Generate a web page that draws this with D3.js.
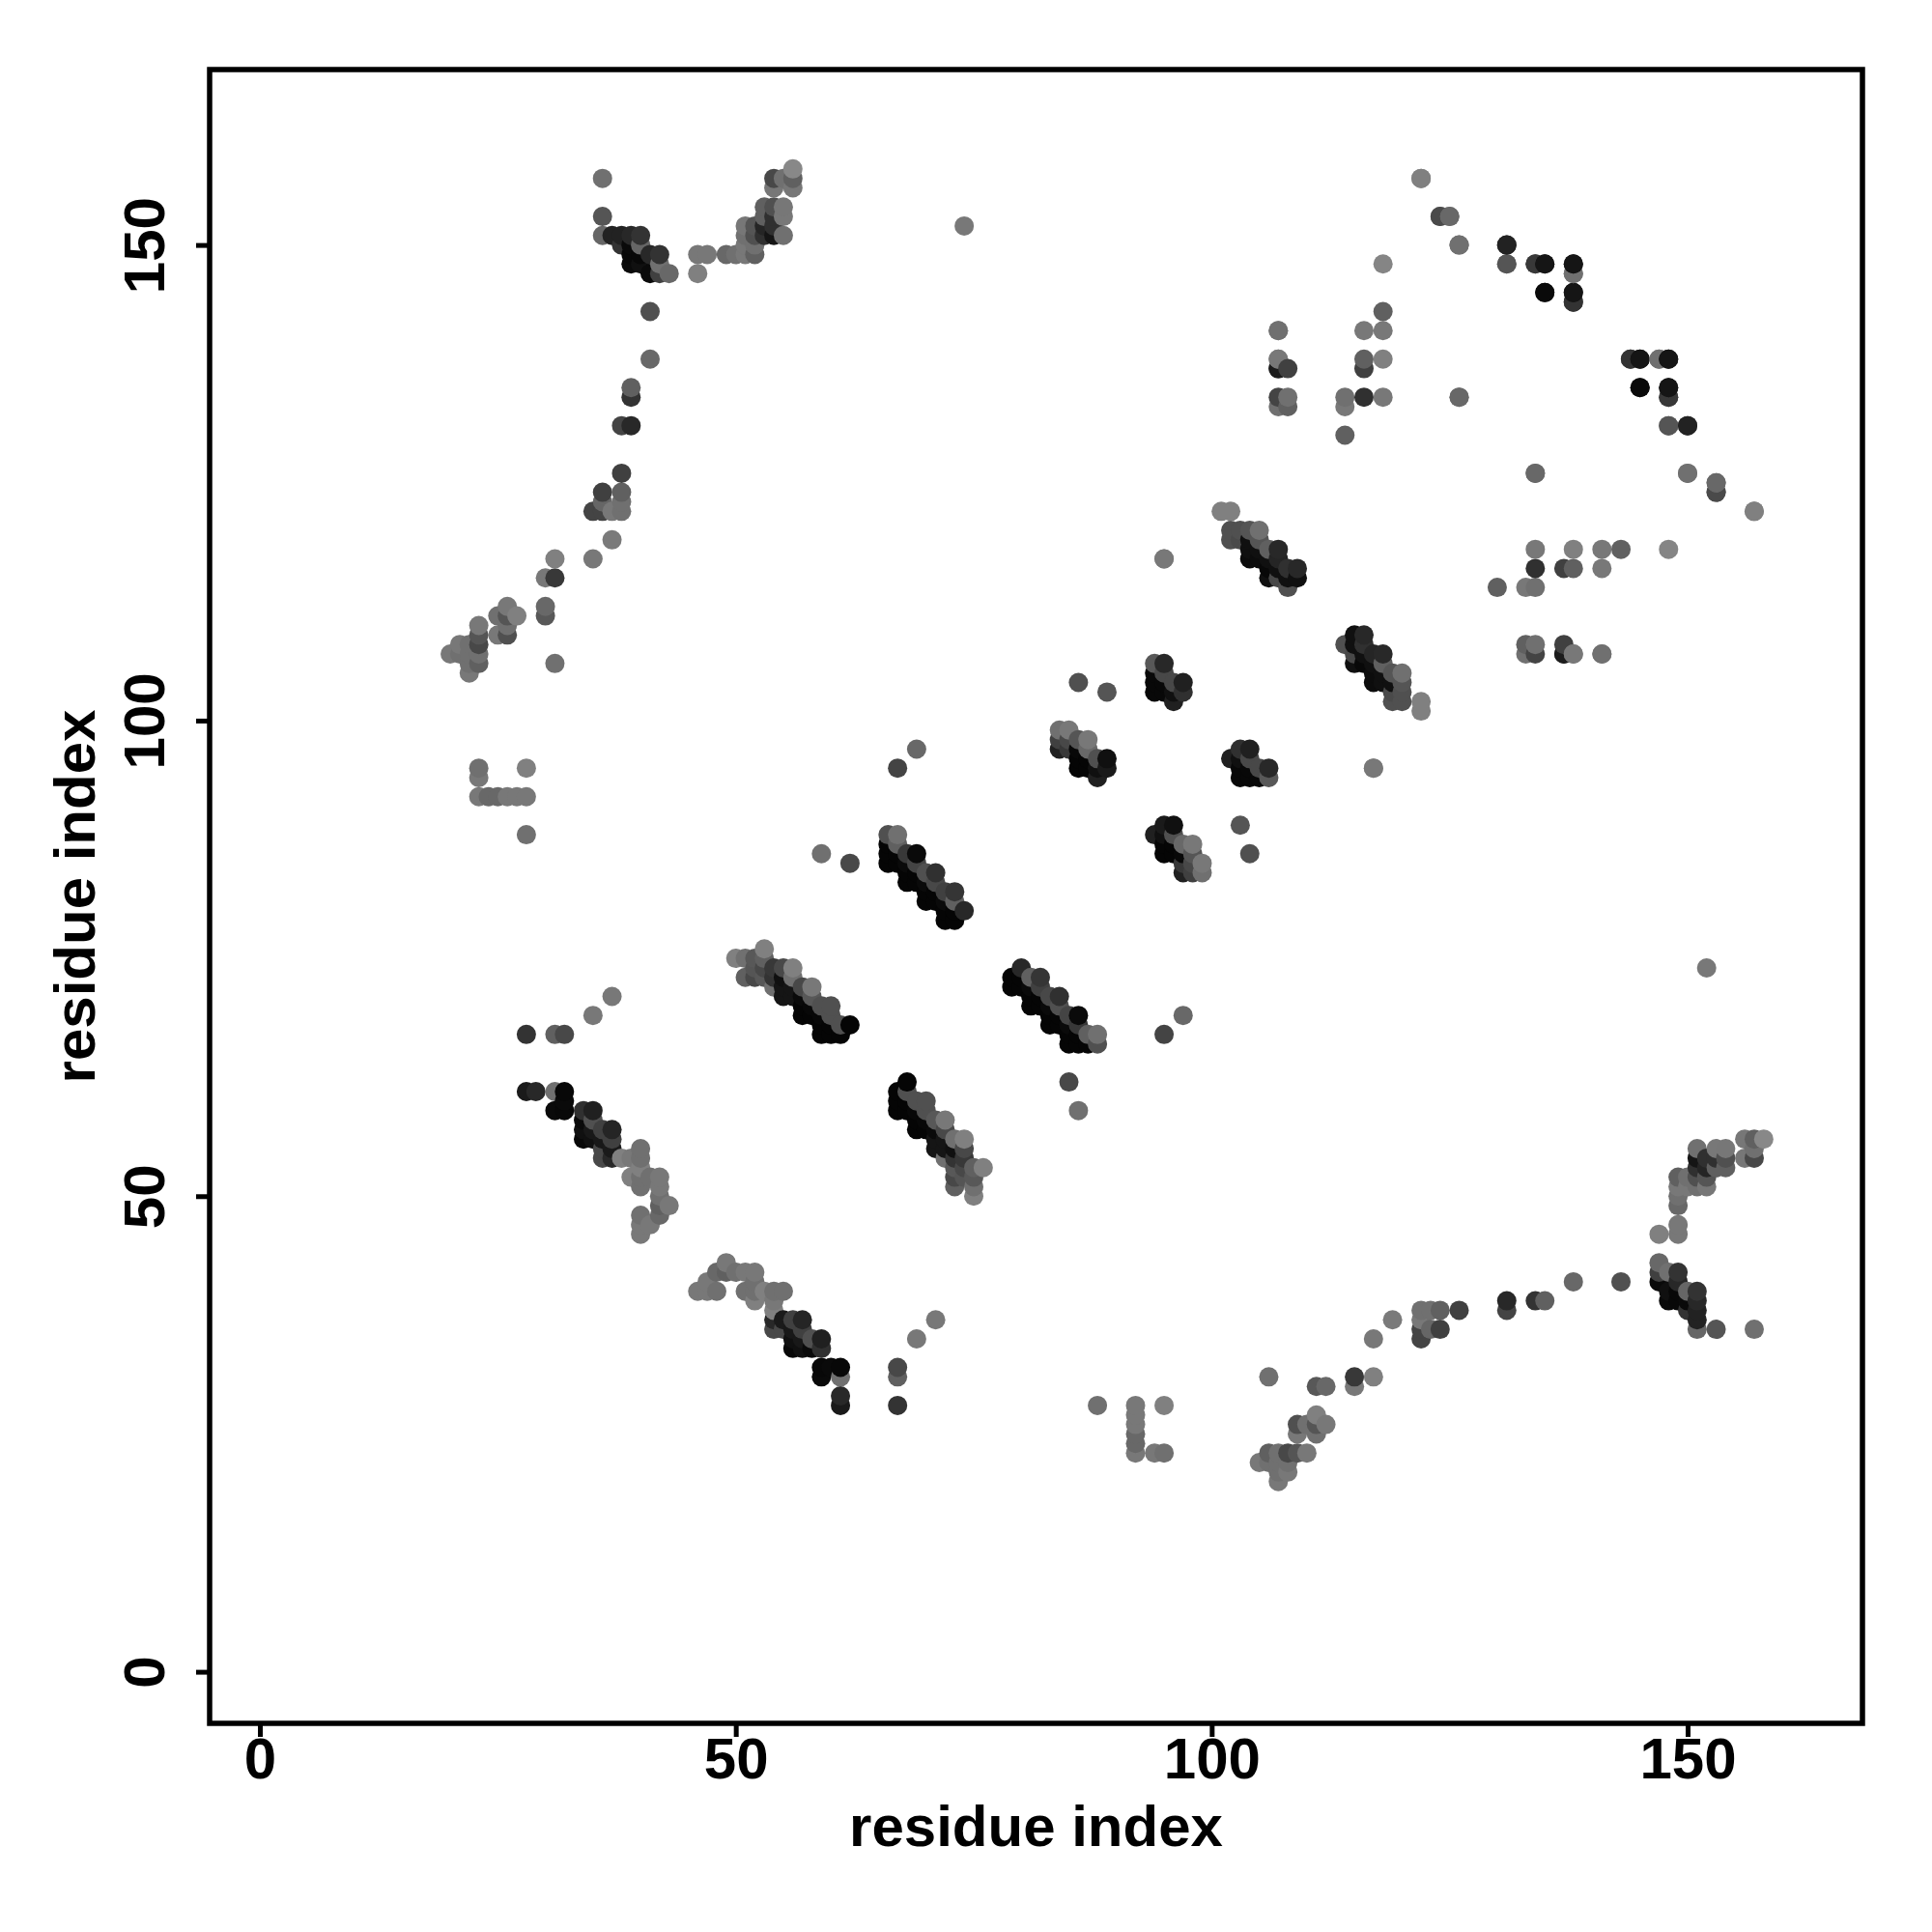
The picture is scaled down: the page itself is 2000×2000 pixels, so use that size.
<!DOCTYPE html>
<html><head><meta charset="utf-8">
<script src="https://cdn.jsdelivr.net/npm/d3@7/dist/d3.min.js"></script>
<style>html,body{margin:0;padding:0;background:#fff}svg{display:block}</style>
</head><body><svg id="c" width="2000" height="2000"></svg>
<script>
// contact map: each entry is [residue i, residue j, grey level]; the map is symmetric, (j,i) is drawn too
const topBranch = [[36,157,0x70],[36,153,0x55],[36,151,0x66],[37,151,0x22],[38,151,0x22],[39,151,0x28],[40,151,0x33],
[38,150,0x33],[39,150,0x0a],[40,150,0x66],[39,149,0x08],[40,149,0x08],[41,149,0x28],[42,149,0x33],[39,148,0x0a],[40,148,0x10],[42,148,0x70],
[41,147,0x0a],[42,147,0x40],[43,147,0x68],[46,147,0x80],[46,149,0x78],[47,149,0x78],[49,149,0x68],[50,149,0x70],[51,149,0x78],[52,149,0x60],
[51,152,0x77],[51,151,0x70],[51,150,0x78],[52,152,0x55],[52,151,0x50],[52,150,0x70],[53,154,0x60],[53,153,0x60],[53,152,0x25],[53,151,0x30],
[54,154,0x50],[54,153,0x30],[54,152,0x30],[54,151,0x15],[54,157,0x48],[54,156,0x77],[55,154,0x77],[55,153,0x78],[55,151,0x70],[55,157,0x70],
[56,158,0x88],[56,157,0x60],[56,156,0x77],[74,152,0x78]];
const leftBranch = [[41,143,0x50],[41,138,0x68],[39,135,0x60],[39,134,0x33],[38,131,0x44],[39,131,0x28],[38,126,0x40],[36,124,0x40],[38,124,0x60],
[36,123,0x66],[38,123,0x70],[35,122,0x44],[36,122,0x44],[37,122,0x78],[38,122,0x70],[37,119,0x7a],[35,117,0x78],[31,117,0x80],[30,115,0x78],[31,115,0x38],
[30,112,0x68],[30,111,0x58],[31,106,0x70],[26,112,0x78],[25,111,0x70],[26,111,0x55],[27,111,0x80],[25,109,0x78],[26,109,0x50],[26,110,0x70],
[23,110,0x78],[23,109,0x55],[23,108,0x48],[23,107,0x70],[23,106,0x60],[22,108,0x70],[21,108,0x78],[20,107,0x78],[21,107,0x70],[22,107,0x70],[22,106,0x70],[22,105,0x78],
[23,95,0x70],[23,94,0x78],[28,95,0x80],[23,92,0x78],[24,92,0x68],[25,92,0x68],[26,92,0x78],[27,92,0x78],[28,92,0x78],[28,88,0x70]];
const upperRight = [[122,157,0x80],[124,153,0x50],[125,153,0x68],[126,150,0x70],[131,150,0x25],[131,148,0x60],[134,148,0x40],[135,148,0x15],[138,148,0x15],[138,147,0x78],
[135,145,0x0c],[138,145,0x15],[138,144,0x30],[118,148,0x85],[118,143,0x60],[116,141,0x78],[118,141,0x78],[107,141,0x78],[107,138,0x78],[116,138,0x60],[118,138,0x80],
[107,137,0x22],[108,137,0x40],[116,137,0x40],[107,134,0x44],[108,134,0x70],[114,134,0x70],[116,134,0x30],[118,134,0x78],[126,134,0x68],[107,133,0x70],[108,133,0x60],[114,133,0x78],[114,130,0x60],
[144,138,0x33],[145,138,0x15],[147,138,0x70],[148,138,0x15],[145,135,0x0a],[148,135,0x15],[148,134,0x38],[148,131,0x55],[150,131,0x22],[134,126,0x68],[150,126,0x70],[153,125,0x68],[153,124,0x4a],[157,122,0x80],
[137,107,0x1c],[138,107,0x78],[141,107,0x70]];
const strand102 = [[101,122,0x80],[102,122,0x80],[102,120,0x50],[103,120,0x50],[104,120,0x55],[105,120,0x70],[102,119,0x50],[103,119,0x4a],[104,119,0x10],[105,119,0x55],
[104,118,0x10],[105,118,0x10],[106,118,0x60],[107,118,0x28],[104,117,0x0c],[105,117,0x0c],[106,117,0x10],[107,117,0x25],[106,116,0x08],[107,116,0x10],[108,116,0x30],[109,116,0x28],
[106,115,0x10],[107,115,0x48],[108,115,0x10],[109,115,0x10],[108,114,0x50],[95,117,0x78]];
const strand94 = [[94,106,0x58],[95,106,0x28],[94,105,0x08],[95,105,0x48],[94,104,0x08],[95,104,0x08],[96,104,0x48],[97,104,0x20],[94,103,0x08],[95,103,0x08],[96,103,0x10],[97,103,0x30],[96,102,0x20],[86,104,0x50],[89,103,0x55]];
const strand85 = [[84,99,0x70],[85,99,0x78],[84,98,0x40],[85,98,0x48],[86,98,0x55],[87,98,0x78],[84,97,0x20],[85,97,0x38],[86,97,0x08],[87,97,0x68],[86,96,0x05],[87,96,0x05],[88,96,0x50],[89,96,0x10],
[86,95,0x05],[87,95,0x05],[88,95,0x10],[89,95,0x1a],[88,94,0x20],[69,97,0x68],[67,95,0x44],[117,95,0x78]];
const strand66 = [[66,88,0x50],[67,88,0x70],[66,87,0x05],[67,87,0x60],[66,86,0x05],[67,86,0x05],[68,86,0x38],[69,86,0x0a],[66,85,0x05],[67,85,0x05],[68,85,0x0a],[69,85,0x44],
[68,84,0x05],[69,84,0x05],[70,84,0x50],[71,84,0x30],[68,83,0x05],[69,83,0x05],[70,83,0x0a],[71,83,0x48],[70,82,0x05],[71,82,0x05],[72,82,0x40],[73,82,0x35],[70,81,0x05],[71,81,0x05],[72,81,0x0a],[73,81,0x60],
[72,80,0x05],[73,80,0x05],[74,80,0x28],[72,79,0x05],[73,79,0x05],[62,85,0x48],[59,86,0x70]];
const strand53 = [[53,76,0x80],[50,75,0x80],[51,75,0x70],[52,75,0x58],[53,75,0x60],[52,74,0x55],[53,74,0x48],[54,74,0x38],[55,74,0x48],[56,74,0x80],
[51,73,0x60],[52,73,0x48],[53,73,0x58],[54,73,0x33],[55,73,0x10],[56,73,0x70],[54,72,0x70],[55,72,0x15],[56,72,0x15],[57,72,0x48],[58,72,0x78],
[55,71,0x15],[56,71,0x15],[57,71,0x0a],[58,71,0x58],[57,70,0x05],[58,70,0x08],[59,70,0x50],[60,70,0x50],[57,69,0x05],[58,69,0x05],[59,69,0x08],[60,69,0x50],
[59,68,0x05],[60,68,0x05],[61,68,0x50],[62,68,0x05],[59,67,0x05],[60,67,0x05],[61,67,0x05]];
const strand28 = [[37,71,0x78],[35,69,0x78],[28,67,0x33],[31,67,0x60],[32,67,0x48],[28,61,0x1a],[29,61,0x28],[31,61,0x70],[32,61,0x08],[32,60,0x0a],[31,59,0x0a],[32,59,0x08],[34,59,0x30],[35,59,0x20],
[34,58,0x0a],[35,58,0x50],[34,57,0x10],[35,57,0x18],[36,57,0x40],[37,57,0x25],[34,56,0x08],[35,56,0x10],[36,56,0x18],[37,56,0x40],[36,55,0x48],[37,55,0x1a],[40,55,0x70],
[36,54,0x48],[37,54,0x28],[38,54,0x80],[39,54,0x78],[40,54,0x70],[40,53,0x80],[39,52,0x80],[40,52,0x70],[41,52,0x70],[42,52,0x78],[40,51,0x70],[42,51,0x78],[42,50,0x70],[43,49,0x78],[42,49,0x60],
[40,48,0x70],[42,48,0x68],[40,47,0x78],[41,47,0x78],[40,46,0x78]];
const xTicks = [0, 50, 100, 150];
const yTicks = [0, 50, 100, 150];
const axisTitle = "residue index";

const contacts = [topBranch, leftBranch, upperRight, strand102, strand94, strand85, strand66, strand53, strand28].flat();
const points = contacts.flatMap(([i, j, g]) => [{x: i, y: j, g}, {x: j, y: i, g}])
  .sort((a, b) => d3.ascending(a.x, b.x) || d3.ascending(a.y, b.y));

const box = {left: 217, right: 1928, top: 72, bottom: 1784};
const x = d3.scaleLinear().domain([0, 150]).range([269, 1747]);
const y = d3.scaleLinear().domain([0, 150]).range([1730.6, 253.6]);
const svg = d3.select("#c");
const font = "'Liberation Sans', Arial, sans-serif";

svg.append("rect").attr("width", 2000).attr("height", 2000).attr("fill", "#fff");

svg.append("g").selectAll("circle").data(points).join("circle")
  .attr("cx", d => x(d.x)).attr("cy", d => y(d.y)).attr("r", 10)
  .attr("fill", d => d3.rgb(d.g, d.g, d.g));

svg.append("rect").attr("x", box.left).attr("y", box.top)
  .attr("width", box.right - box.left).attr("height", box.bottom - box.top)
  .attr("fill", "none").attr("stroke", "#000").attr("stroke-width", 5.5);

const gx = svg.append("g").attr("transform", `translate(0,${box.bottom})`)
  .call(d3.axisBottom(x).tickValues(xTicks).tickSize(14).tickPadding(0).tickFormat(d3.format("d")));
const gy = svg.append("g").attr("transform", `translate(${box.left},0)`)
  .call(d3.axisLeft(y).tickValues(yTicks).tickSize(14).tickPadding(0).tickFormat(d3.format("d")));
gx.select(".domain").remove(); gy.select(".domain").remove();
svg.selectAll(".tick line").attr("stroke", "#000").attr("stroke-width", 5);
gx.selectAll("text").attr("font-family", font).attr("font-weight", "bold").attr("font-size", 60).attr("fill", "#000");
gy.selectAll("text").attr("font-family", font).attr("font-weight", "bold").attr("font-size", 60).attr("fill", "#000")
  .attr("text-anchor", "middle").attr("dy", null)
  .attr("transform", "translate(-47,0) rotate(-90)").attr("x", 0).attr("y", 0);

svg.append("text").text(axisTitle).attr("x", (box.left + box.right) / 2).attr("y", 1911)
  .attr("text-anchor", "middle").attr("font-family", font).attr("font-weight", "bold").attr("font-size", 60);
svg.append("text").text(axisTitle).attr("transform", `translate(98,${(box.top + box.bottom) / 2}) rotate(-90)`)
  .attr("text-anchor", "middle").attr("font-family", font).attr("font-weight", "bold").attr("font-size", 60);
</script></body></html>
